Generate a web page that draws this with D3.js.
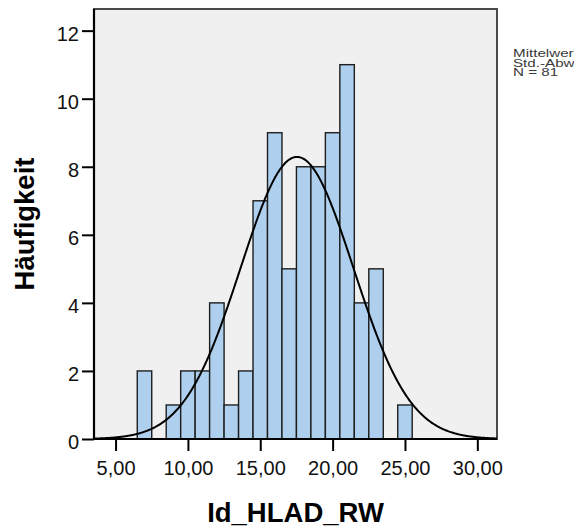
<!DOCTYPE html>
<html>
<head>
<meta charset="utf-8">
<script src="https://cdn.jsdelivr.net/npm/d3@7"></script>
<style>
  html, body { margin: 0; padding: 0; background: #ffffff; overflow: hidden; }
  svg { display: block; }
</style>
</head>
<body>
<svg id="chart" width="574" height="532"></svg>
<script>
// ---- data ----
const binStarts = [6.5, 7.5, 8.5, 9.5, 10.5, 11.5, 12.5, 13.5, 14.5, 15.5, 16.5, 17.5, 18.5, 19.5, 20.5, 21.5, 22.5, 23.5, 24.5];
const counts    = [2,   0,   1,   2,   2,    4,    1,    2,    7,    9,    5,    8,    8,    9,    11,   4,    5,    0,    1];
const binWidth = 1;
const meanValue = 17.54;
const sdValue = 3.898;
const nValue = 81;
const xTicks = [5, 10, 15, 20, 25, 30];
const yTicks = [0, 2, 4, 6, 8, 10, 12];
const legendLines = ["Mittelwert = 17,54", "Std.-Abw. = 3,898", "N = 81"];
const xTitle = "Id_HLAD_RW";
const yTitle = "Häufigkeit";

// ---- layout ----
const pLeft = 94, pRight = 497, pTop = 9, pBottom = 439;
const font = "Arial, 'Liberation Sans', sans-serif";

const svg = d3.select("#chart");

const x = d3.scaleLinear().domain([3.51, 31.36]).range([pLeft, pRight]);
const y = d3.scaleLinear().domain([0, 12.636]).range([pBottom, pTop]);

const locale = d3.formatLocale({decimal: ",", thousands: ".", grouping: [3], currency: ["", " €"]});
const fmtX = locale.format(".2f");

// plot background + frame
svg.append("rect")
  .attr("x", pLeft).attr("y", pTop)
  .attr("width", pRight - pLeft).attr("height", pBottom - pTop)
  .attr("fill", "#f0f0f0")
  .attr("stroke", "#4a4a4a").attr("stroke-width", 2);

// bars
const bins = binStarts.map((b, i) => ({x0: b, x1: b + binWidth, n: counts[i]})).filter(d => d.n > 0);
svg.append("g").selectAll("rect").data(bins).join("rect")
  .attr("x", d => x(d.x0))
  .attr("y", d => y(d.n))
  .attr("width", d => x(d.x1) - x(d.x0))
  .attr("height", d => y(0) - y(d.n))
  .attr("fill", "#aed0ee")
  .attr("stroke", "#1e1e1e")
  .attr("stroke-width", 1.4);

// normal curve from the mean / sd / n of the data
const dens = v => nValue * binWidth / (sdValue * Math.sqrt(2 * Math.PI)) * Math.exp(-0.5 * Math.pow((v - meanValue) / sdValue, 2));
const xs = d3.range(x.domain()[0], x.domain()[1] + 0.001, 0.05);
svg.append("path")
  .datum(xs)
  .attr("d", d3.line().x(v => x(v)).y(v => y(dens(v))).curve(d3.curveBasis))
  .attr("fill", "none")
  .attr("stroke", "#000")
  .attr("stroke-width", 2);

// axes
const yAxis = svg.append("g")
  .attr("transform", `translate(${pLeft},0)`)
  .call(d3.axisLeft(y).tickValues(yTicks).tickSize(12).tickPadding(3).tickFormat(d3.format("d")));
yAxis.select(".domain").remove();
yAxis.selectAll(".tick line").attr("stroke", "#000").attr("stroke-width", 2);
yAxis.selectAll(".tick text")
  .attr("font-family", font).attr("font-size", 20).attr("fill", "#111")
  .attr("y", 3.5);

const xAxis = svg.append("g")
  .attr("transform", `translate(0,${pBottom})`)
  .call(d3.axisBottom(x).tickValues(xTicks).tickSize(12).tickFormat(fmtX));
xAxis.select(".domain").remove();
xAxis.selectAll(".tick line").attr("stroke", "#000").attr("stroke-width", 2);
xAxis.selectAll(".tick text")
  .attr("font-family", font).attr("font-size", 20).attr("fill", "#111")
  .attr("y", 36).attr("dy", 0);

// axis lines (left + bottom) in black
svg.append("line").attr("x1", pLeft).attr("x2", pLeft).attr("y1", pTop).attr("y2", pBottom)
  .attr("stroke", "#000").attr("stroke-width", 2.2);
svg.append("line").attr("x1", pLeft).attr("x2", pRight).attr("y1", pBottom).attr("y2", pBottom)
  .attr("stroke", "#000").attr("stroke-width", 2.2);

// titles
svg.append("text")
  .attr("x", (pLeft + pRight) / 2).attr("y", 521.5)
  .attr("text-anchor", "middle")
  .attr("font-family", font).attr("font-weight", "bold").attr("font-size", 27.5)
  .attr("fill", "#000")
  .text(xTitle);

svg.append("text")
  .attr("transform", "translate(33.5,224) rotate(-90)")
  .attr("text-anchor", "middle")
  .attr("font-family", font).attr("font-weight", "bold").attr("font-size", 27.5)
  .attr("fill", "#000")
  .text(yTitle);

// legend text (runs past the window edge as in the reference)
svg.append("g")
  .attr("transform", "translate(513,0) scale(1.32,1)")
  .selectAll("text").data(legendLines).join("text")
  .attr("x", 0)
  .attr("y", (d, i) => 57 + i * 9.6)
  .attr("font-family", font).attr("font-size", 11.5)
  .attr("fill", "#3a3a3a")
  .text(d => d);
</script>
</body>
</html>
